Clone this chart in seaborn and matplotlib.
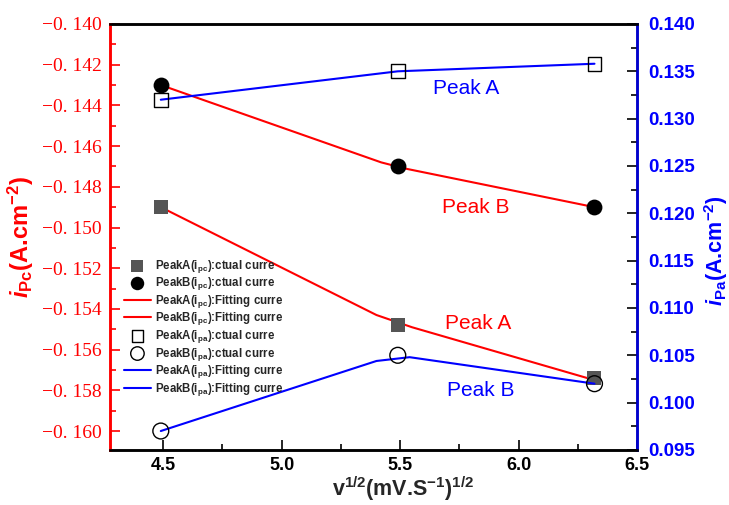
import numpy as np
import pandas as pd
import matplotlib
matplotlib.use("Agg")
import matplotlib.pyplot as plt
import matplotlib.ticker as mticker
import seaborn as sns

# scan-rate axis
x_pts = [4.49, 5.49, 6.32]
# cathodic (left axis)
peakA_ipc = [-0.1490, -0.1548, -0.1574]
peakB_ipc = [-0.1430, -0.1470, -0.1490]
fitA_ipc_x = [4.49, 5.40, 5.55, 6.32]
fitA_ipc_y = [-0.1490, -0.1543, -0.1549, -0.1575]
fitB_ipc_x = [4.49, 5.42, 5.52, 6.32]
fitB_ipc_y = [-0.1430, -0.1468, -0.1471, -0.1490]
# anodic (right axis)
peakA_ipa = [0.1320, 0.1350, 0.1358]
peakB_ipa = [0.0970, 0.1050, 0.1020]
fitA_ipa_x = [4.49, 5.49, 6.32]
fitA_ipa_y = [0.1320, 0.1350, 0.1358]
fitB_ipa_x = [4.49, 5.40, 5.54, 6.32]
fitB_ipa_y = [0.0970, 0.1044, 0.1048, 0.1020]

labels = [r"PeakA(i$_{\mathbf{pc}}$):ctual curre", r"PeakB(i$_{\mathbf{pc}}$):ctual curre",
          r"PeakA(i$_{\mathbf{pc}}$):Fitting curre", r"PeakB(i$_{\mathbf{pc}}$):Fitting curre",
          r"PeakA(i$_{\mathbf{pa}}$):ctual curre", r"PeakB(i$_{\mathbf{pa}}$):ctual curre",
          r"PeakA(i$_{\mathbf{pa}}$):Fitting curre", r"PeakB(i$_{\mathbf{pa}}$):Fitting curre"]

sns.set_style("white")
plt.rcParams['font.family'] = ['Liberation Sans', 'DejaVu Sans']
plt.rcParams['mathtext.fontset'] = 'custom'
plt.rcParams['mathtext.rm'] = 'Liberation Sans:bold'
plt.rcParams['mathtext.bf'] = 'Liberation Sans:bold'
plt.rcParams['mathtext.it'] = 'Liberation Sans:bold:italic'
plt.rcParams['mathtext.bfit'] = 'Liberation Sans:bold:italic'

fig = plt.figure(figsize=(7.29, 5.05), dpi=100)
ax = fig.add_axes([0.151, 0.109, 0.723, 0.8435])
ax2 = ax.twinx()

red = "#ff0000"
blue = "#0000ff"
grey = "#555555"

# fitted curves
sns.lineplot(x=fitA_ipc_x, y=fitA_ipc_y, ax=ax, color=red, lw=1.5, label=labels[2], zorder=2)
sns.lineplot(x=fitB_ipc_x, y=fitB_ipc_y, ax=ax, color=red, lw=1.5, label=labels[3], zorder=2)
sns.lineplot(x=fitA_ipa_x, y=fitA_ipa_y, ax=ax2, color=blue, lw=1.5, label=labels[6], zorder=2)
sns.lineplot(x=fitB_ipa_x, y=fitB_ipa_y, ax=ax2, color=blue, lw=1.5, label=labels[7], zorder=2)

# measured points
sns.scatterplot(x=x_pts, y=peakA_ipc, ax=ax, marker="s", s=110, color=grey, edgecolor=grey,
                linewidth=0, label=labels[0], zorder=3)
sns.scatterplot(x=x_pts, y=peakB_ipc, ax=ax, marker="o", s=130, color="black", edgecolor="black",
                linewidth=0, label=labels[1], zorder=3)
sns.scatterplot(x=x_pts, y=peakA_ipa, ax=ax2, marker="s", s=100, facecolor="none", edgecolor="black",
                linewidth=1, label=labels[4], zorder=3)
sns.scatterplot(x=x_pts, y=peakB_ipa, ax=ax2, marker="o", s=130, facecolor="none", edgecolor="black",
                linewidth=1, label=labels[5], zorder=3)

ax.set_xlim(4.276, 6.5)
ax.set_ylim(-0.16093, -0.140)
ax2.set_ylim(0.095, 0.140)

ax.xaxis.set_major_locator(mticker.MultipleLocator(0.5))
ax.xaxis.set_minor_locator(mticker.MultipleLocator(0.25))
ax.xaxis.set_major_formatter(mticker.FormatStrFormatter("%.1f"))
ax.yaxis.set_major_locator(mticker.FixedLocator(np.arange(-0.160, -0.1399, 0.002)))
ax.yaxis.set_minor_locator(mticker.FixedLocator(np.arange(-0.160, -0.1399, 0.001)))
ax.yaxis.set_major_formatter(mticker.FuncFormatter(lambda v, p: "\u22120. %03d" % round(-v * 1000)))
ax2.yaxis.set_major_locator(mticker.MultipleLocator(0.005))
ax2.yaxis.set_minor_locator(mticker.MultipleLocator(0.0025))
ax2.yaxis.set_major_formatter(mticker.FormatStrFormatter("%.3f"))

ax.tick_params(axis="x", which="both", direction="in", bottom=True, top=False, colors="black",
               labelsize=13, pad=5)
ax.tick_params(axis="x", which="major", length=7, width=1.2)
ax.tick_params(axis="x", which="minor", length=4, width=1.2)
ax.tick_params(axis="y", which="both", direction="in", left=True, right=False, colors=red, labelcolor=red,
               labelsize=14, pad=6)
ax.tick_params(axis="y", which="major", length=7, width=1.2)
ax.tick_params(axis="y", which="minor", length=4, width=1.2)
ax2.tick_params(axis="y", which="both", direction="in", right=True, colors="black", labelcolor=blue,
                labelsize=13.5, pad=8)
ax2.tick_params(axis="y", which="major", length=7, width=1.2)
ax2.tick_params(axis="y", which="minor", length=4, width=1.2)
for t in ax.get_xticklabels() + ax2.get_yticklabels():
    t.set_fontweight("bold")
for t in ax.get_yticklabels():
    t.set_family(["Liberation Serif", "DejaVu Serif"])

for a in (ax, ax2):
    for sp in a.spines.values():
        sp.set_linewidth(1.8)
        sp.set_color("black")
ax2.spines["left"].set_color(red)
ax2.spines["right"].set_color("#0000cc")
ax.spines["left"].set_color(red)
ax.spines["right"].set_color("#0000cc")

ax.set_xlabel(r"v$^{\mathbf{1/2}}$(mV.S$^{\mathbf{-1}}$)$^{\mathbf{1/2}}$", fontsize=15.5,
              fontweight="bold")
ax.xaxis.set_label_coords(0.556, -0.057)
ax.set_ylabel(r"$\mathbfit{i}_{\mathbf{Pc}}$(A.cm$^{\mathbf{-2}}$)", fontsize=17, fontweight="bold",
              color=red, labelpad=4)
ax2.set_ylabel(r"$\mathbfit{i}_{\mathbf{Pa}}$(A.cm$^{\mathbf{-2}}$)", fontsize=15.5, fontweight="bold",
               color=blue)
ax2.yaxis.set_label_coords(1.124, 0.467)

ax.text(5.78, -0.14315, "Peak A", color=blue, fontsize=15, ha="center", va="center", zorder=5)
ax.text(5.82, -0.1490, "Peak B", color=red, fontsize=15, ha="center", va="center", zorder=5)
ax.text(5.83, -0.1547, "Peak A", color=red, fontsize=15, ha="center", va="center", zorder=5)
ax.text(5.84, -0.1580, "Peak B", color=blue, fontsize=15, ha="center", va="center", zorder=5)

h1, l1 = ax.get_legend_handles_labels()
h2, l2 = ax2.get_legend_handles_labels()
hmap = dict(zip(l1 + l2, h1 + h2))
ax.get_legend().remove()
ax2.get_legend().remove()
leg = ax2.legend([hmap[l] for l in labels], labels, loc="upper left", bbox_to_anchor=(0.018, 0.462),
                 frameon=False, prop={"size": 8.3, "weight": "bold"}, handlelength=2.3,
                 labelspacing=0.05, handletextpad=0.4, borderaxespad=0, markerscale=0.85)

fig.savefig("out.png", dpi=100)
